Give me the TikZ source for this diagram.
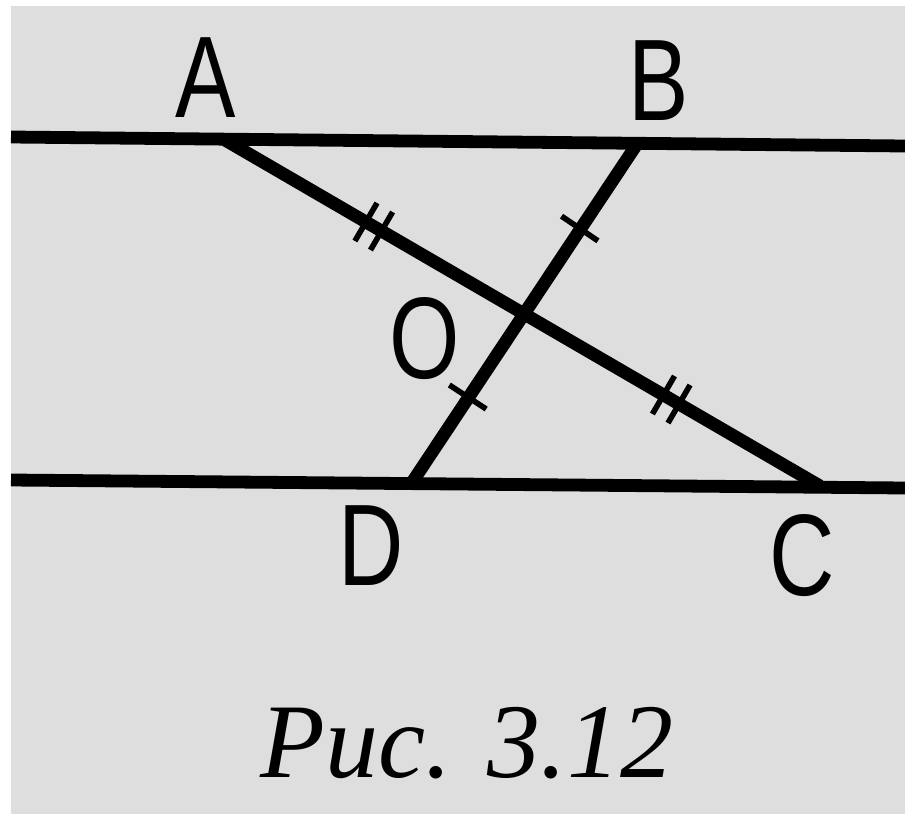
\documentclass[tikz,border=0pt]{standalone}
\usepackage{fontspec}
\usetikzlibrary{calc}
\newfontfamily\lblfont[FakeStretch=0.78]{Liberation Sans}
\newfontfamily\capfont{Liberation Serif}
\definecolor{bggray}{RGB}{222,222,222}
\tikzset{
  mainline/.style={line width=6.4pt, black},
  segline/.style={line width=6.4pt, black},
  tickmark/.style={line width=2.8pt, black},
  ptlabel/.style={anchor=base, inner sep=0pt, font=\lblfont\fontsize{58}{60}\selectfont},
  captext/.style={anchor=base, inner sep=0pt, font=\capfont\itshape\fontsize{53}{60}\selectfont}
}
\begin{document}
\begin{tikzpicture}[x=0.5pt,y=-0.5pt]
\useasboundingbox (0,0) rectangle (905,814);
\fill[white] (0,0) rectangle (905,814);
\fill[bggray] (11,6) rectangle (905,814);
% parallel lines
\coordinate (TL) at (11,137);
\coordinate (TR) at (905,146);
\coordinate (BL) at (11,480);
\coordinate (BR) at (905,488);
\draw[mainline] (TL) -- (TR);
\draw[mainline] (BL) -- (BR);
% points
\coordinate (A) at (225,140);
\coordinate (B) at (637,144);
\coordinate (C) at (820,486);
\coordinate (D) at (413,481);
\coordinate (O) at ($(A)!0.5!(C)$);
\draw[segline] (A) -- (C);
\draw[segline] (B) -- (D);
% double ticks on AO and OC
\foreach \P/\Q in {A/O, C/O}{
  \coordinate (M) at ($(\P)!0.5!(\Q)$);
  \coordinate (m1) at ($(M)!4.5pt!(\Q)$);
  \coordinate (m2) at ($(M)!-4.5pt!(\Q)$);
  \draw[tickmark] ($(m1)!11pt!90:(\Q)$) -- ($(m1)!11pt!-90:(\Q)$);
  \draw[tickmark] ($(m2)!11pt!90:(\Q)$) -- ($(m2)!11pt!-90:(\Q)$);
}
% single ticks on BO and OD
\foreach \P/\Q in {B/O, D/O}{
  \coordinate (M) at ($(\P)!0.5!(\Q)$);
  \draw[tickmark] ($(M)!11pt!90:(\Q)$) -- ($(M)!11pt!-90:(\Q)$);
}
% labels
\node[ptlabel] (lA) at (206,117) {A};
\node[ptlabel] (lB) at (659,120) {B};
\node[ptlabel] (lO) at (425,378) {O};
\node[ptlabel] (lD) at (371,585) {D};
\node[ptlabel] (lC) at (802,595) {C};
\node[captext] (cap) at (467,777) {Рис. 3.12};
\end{tikzpicture}
\end{document}
